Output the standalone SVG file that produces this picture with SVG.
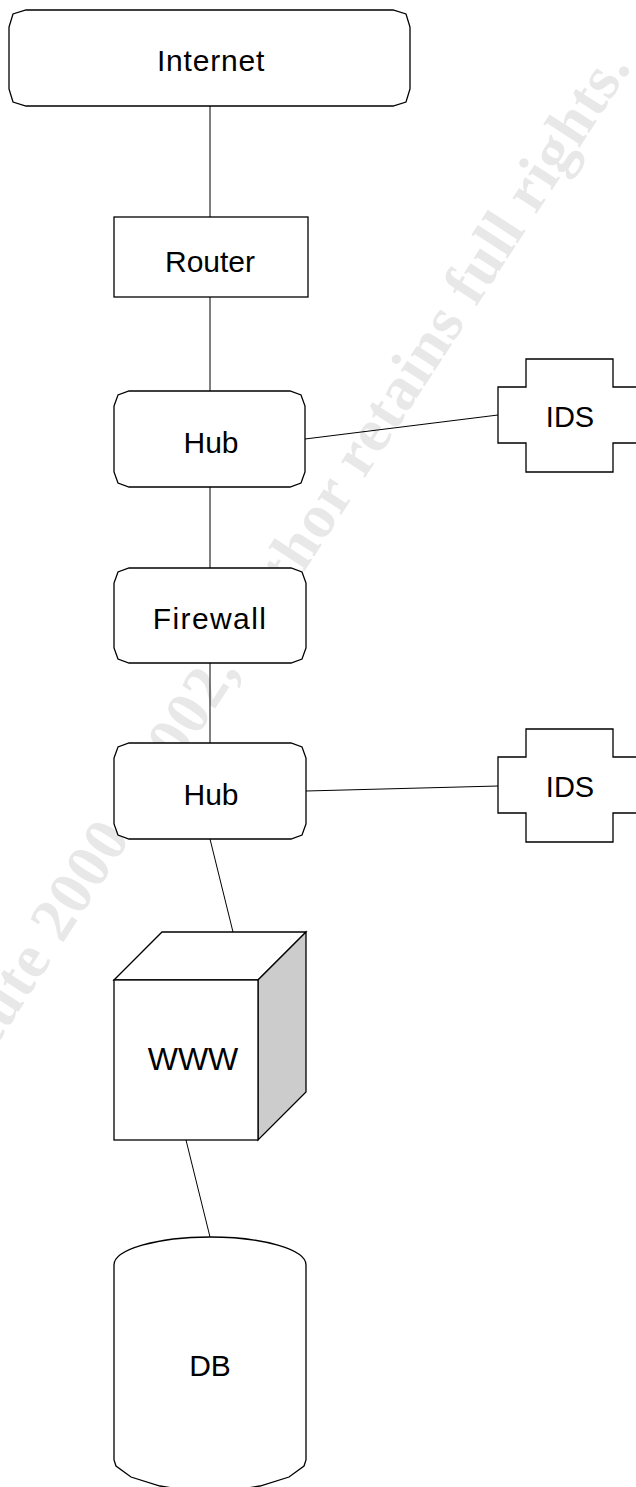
<svg xmlns="http://www.w3.org/2000/svg" width="636" height="1487" viewBox="0 0 636 1487">
  <style>
    .shape { fill: #ffffff; stroke: #000000; stroke-width: 1.3; stroke-linejoin: miter; }
    .side { fill: #cccccc; stroke: #000000; stroke-width: 1.3; }
    .link { stroke: #000000; stroke-width: 1; fill: none; }
    .label { font-family: "Liberation Sans", Arial, sans-serif; font-size: 30px; fill: #000000; text-anchor: middle; }
    .mark { font-family: "Liberation Serif", "Times New Roman", serif; font-weight: bold; font-size: 62px; fill: #e8e8e8; letter-spacing: 1px; }
  </style>

  <rect x="0" y="0" width="636" height="1487" fill="#ffffff"/>

  <!-- copyright watermark, drawn underneath everything -->
  <g id="watermark" transform="translate(80,880) rotate(-57)">
    <text class="mark" x="-556" y="20">© SANS Institute 2000 - 2002, Author retains full rights.</text>
  </g>

  <!-- connectors -->
  <g id="connectors">
    <line class="link" x1="210" y1="106" x2="210" y2="217"/>
    <line class="link" x1="210" y1="297" x2="210" y2="391"/>
    <line class="link" x1="210" y1="487" x2="210" y2="568"/>
    <line class="link" x1="210" y1="663" x2="210" y2="743"/>
    <line class="link" x1="305" y1="439" x2="498" y2="415"/>
    <line class="link" x1="306" y1="791" x2="498" y2="786"/>
    <line class="link" x1="210" y1="839" x2="233" y2="932"/>
    <line class="link" x1="186" y1="1140" x2="210" y2="1237"/>
  </g>

  <g id="internet">
    <path class="shape" d="M26,10 H393 L406,14 L410,27 V89 L406,102 L393,106 H26 L13,102 L9,89 V27 L13,14 Z"/>
    <text class="label" x="211" y="71" style="letter-spacing:0.8px">Internet</text>
  </g>

  <g id="router">
    <rect class="shape" x="114" y="217" width="194" height="80"/>
    <text class="label" x="210" y="272">Router</text>
  </g>

  <g id="hub1">
    <path class="shape" d="M129,391 H290 L301,395 L305,406 V472 L301,483 L290,487 H129 L118,483 L114,472 V406 L118,395 Z"/>
    <text class="label" x="211" y="453">Hub</text>
  </g>

  <g id="ids1">
    <polygon class="shape" points="526,359 613,359 613,387 641,387 641,443 613,443 613,472 526,472 526,443 498,443 498,387 526,387"/>
    <text class="label" x="570" y="427" style="font-size:29px">IDS</text>
  </g>

  <g id="firewall">
    <path class="shape" d="M129,568 H291 L302,572 L306,583 V648 L302,659 L291,663 H129 L118,659 L114,648 V583 L118,572 Z"/>
    <text class="label" x="210" y="629" style="letter-spacing:1.4px">Firewall</text>
  </g>

  <g id="hub2">
    <path class="shape" d="M129,743 H291 L302,747 L306,758 V824 L302,835 L291,839 H129 L118,835 L114,824 V758 L118,747 Z"/>
    <text class="label" x="211" y="805">Hub</text>
  </g>

  <g id="ids2">
    <polygon class="shape" points="526,729 613,729 613,757 641,757 641,813 613,813 613,842 526,842 526,813 498,813 498,757 526,757"/>
    <text class="label" x="570" y="797" style="font-size:29px">IDS</text>
  </g>

  <g id="www">
    <polygon class="shape" points="114,980 162,932 306,932 258,980"/>
    <polygon class="side" points="258,980 306,932 306,1092 258,1140"/>
    <rect class="shape" x="114" y="980" width="144" height="160"/>
    <text class="label" x="193" y="1070" style="font-size:32px">WWW</text>
  </g>

  <g id="db">
    <path class="shape" d="M114,1265 A96,28 0 0 1 306,1265 V1460 L304,1466 L289,1477 L260,1486 L210,1494 L160,1486 L131,1477 L116,1466 L114,1460 Z"/>
    <text class="label" x="210" y="1376">DB</text>
  </g>
</svg>
